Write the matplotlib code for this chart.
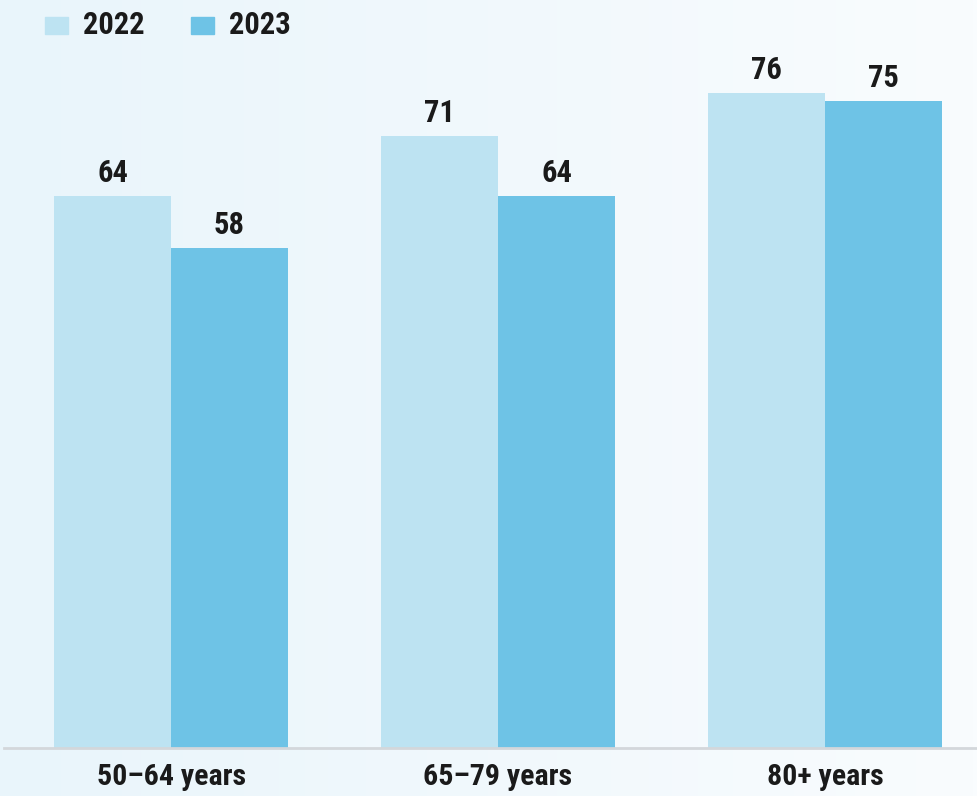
import numpy as np
import matplotlib
matplotlib.use("Agg")
from matplotlib import pyplot as plt
from matplotlib.patches import Rectangle

plt.rcParams['font.family'] = ['Liberation Sans Narrow', 'Roboto Condensed', 'DejaVu Sans']

groups = ["50–64 years", "65–79 years", "80+ years"]
years = ["2022", "2023"]
vals_2022 = [64, 71, 76]
vals_2023 = [58, 64, 75]
colors = ["#BDE3F2", "#6EC3E6"]
txt = "#1a1a1a"

fig = plt.figure(figsize=(9.77, 7.96), dpi=100)

# background gradient (light blue on the left, almost white on the right)
bg = fig.add_axes([0, 0, 1, 1], zorder=-10)
grad = np.linspace(0, 1, 256).reshape(1, -1)
cmap = matplotlib.colors.LinearSegmentedColormap.from_list("bg", ["#E9F5FB", "#F9FCFE"])
bg.imshow(grad, aspect="auto", cmap=cmap, extent=[0, 1, 0, 1])
bg.axis("off")

ax = fig.add_axes([4 / 977, 48 / 796, 973 / 977, 748 / 796])
ax.patch.set_alpha(0)
x = np.arange(len(groups))
w = 117 / 327
b1 = ax.bar(x - w / 2, vals_2022, w, color=colors[0])
b2 = ax.bar(x + w / 2, vals_2023, w, color=colors[1])
for bars in (b1, b2):
    for r in bars:
        ax.text(r.get_x() + r.get_width() / 2, r.get_height() + 0.9, str(int(r.get_height())),
                ha="center", va="bottom", fontsize=22, fontweight="bold", color=txt)

ax.set_xlim(-0.511, 2.465)
ax.set_ylim(0, 748 / 8.625)
ax.set_xticks(x)
ax.set_xticklabels(groups, fontsize=21.5, fontweight="bold", color=txt)
ax.tick_params(axis="x", length=0, pad=11)
ax.set_yticks([])
for s in ["top", "right", "left"]:
    ax.spines[s].set_visible(False)
ax.spines["bottom"].set_color("#D3D7DB")
ax.spines["bottom"].set_linewidth(2)

# legend at the top left
for i, (yr, c) in enumerate(zip(years, colors)):
    x0 = [45, 191][i]
    fig.patches.append(Rectangle((x0 / 977, 1 - 34 / 796), 23 / 977, 17 / 796,
                                 transform=fig.transFigure, color=c))
    fig.text((x0 + 38) / 977, 1 - 25.5 / 796, yr, fontsize=22, fontweight="bold",
             color=txt, va="center", ha="left")

fig.savefig("out.png", dpi=100)
